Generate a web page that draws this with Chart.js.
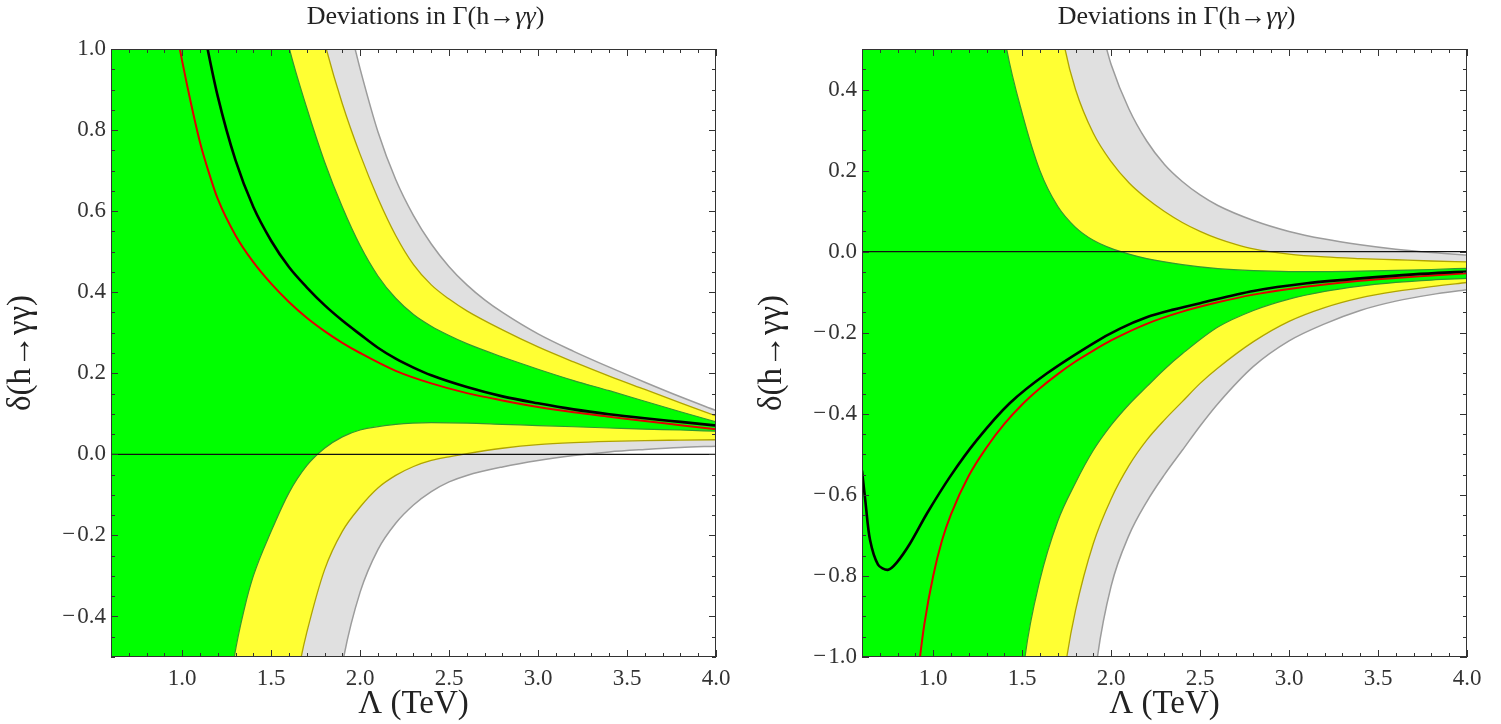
<!DOCTYPE html>
<html>
<head>
<meta charset="utf-8">
<title>Deviations in Γ(h→γγ)</title>
<script src="https://cdn.jsdelivr.net/npm/chart.js@4.4.0/dist/chart.umd.min.js"></script>
<style>
  html, body { margin: 0; padding: 0; background: #fff; }
  #wrap { position: relative; width: 1501px; height: 724px; }
  canvas { position: absolute; top: 0; }
  #left { left: 0; }
  #right { left: 751px; }
</style>
</head>
<body>
<div id="wrap">
  <canvas id="left" width="750" height="724"></canvas>
  <canvas id="right" width="750" height="724"></canvas>
</div>
<script>
// tick labels
const xTicks = [1.0, 1.5, 2.0, 2.5, 3.0, 3.5, 4.0];
const leftYTicks = [-0.4, -0.2, 0.0, 0.2, 0.4, 0.6, 0.8, 1.0];
const rightYTicks = [-1.0, -0.8, -0.6, -0.4, -0.2, 0.0, 0.2, 0.4];

// horizontal reference line
const zeroX = [0.6, 4.0];
const zeroY = [0, 0];

// left panel: central curves
const lRedX = [0.95, 0.987, 1.0, 1.05, 1.1, 1.15, 1.2, 1.3, 1.4, 1.5, 1.6, 1.7, 1.8, 1.9, 2.0, 2.2, 2.4, 2.6, 2.8, 3.0, 3.2, 3.4, 3.6, 3.8, 4.0];
const lRedY = [1.09, 1.0, 0.97, 0.865, 0.77, 0.695, 0.63, 0.54, 0.474, 0.421, 0.376, 0.337, 0.304, 0.275, 0.25, 0.206, 0.175, 0.151, 0.133, 0.117, 0.104, 0.093, 0.082, 0.072, 0.062];
const lBlackX = [1.1, 1.143, 1.2, 1.3, 1.4, 1.5, 1.6, 1.7, 1.8, 1.9, 2.0, 2.1, 2.2, 2.3, 2.4, 2.6, 2.8, 3.0, 3.2, 3.4, 3.6, 3.8, 4.0];
const lBlackY = [1.1, 1.0, 0.883, 0.725, 0.61, 0.527, 0.462, 0.412, 0.368, 0.33, 0.296, 0.263, 0.236, 0.214, 0.195, 0.166, 0.143, 0.126, 0.111, 0.099, 0.089, 0.080, 0.071];

// left panel: band edges
const lGreenHiX = [0.6, 1.3, 1.4, 1.5, 1.603, 1.7, 1.8, 1.9, 2.0, 2.1, 2.2, 2.3, 2.4, 2.5, 2.6, 2.8, 3.0, 3.2, 3.4, 3.6, 3.8, 4.0];
const lGreenHiY = [8.0, 1.75, 1.45, 1.2, 1.0, 0.855, 0.722, 0.61, 0.515, 0.44, 0.385, 0.345, 0.316, 0.293, 0.273, 0.24, 0.21, 0.182, 0.157, 0.131, 0.105, 0.080];
const lGreenLoX = [0.6, 1.0, 1.2, 1.293, 1.35, 1.4, 1.5, 1.6, 1.7, 1.8, 1.9, 2.0, 2.2, 2.4, 2.6, 2.8, 3.0, 3.2, 3.4, 3.6, 3.8, 4.0];
const lGreenLoY = [-8.0, -2.4, -0.8, -0.5, -0.38, -0.30, -0.19, -0.095, -0.028, 0.015, 0.043, 0.06, 0.074, 0.078, 0.077, 0.074, 0.071, 0.068, 0.065, 0.062, 0.060, 0.057];
const lYellowHiX = [0.6, 1.6, 1.7, 1.81, 1.9, 2.0, 2.1, 2.2, 2.3, 2.4, 2.5, 2.6, 2.8, 3.0, 3.2, 3.4, 3.6, 3.8, 4.0];
const lYellowHiY = [10.0, 1.43, 1.2, 1.0, 0.865, 0.74, 0.632, 0.54, 0.468, 0.418, 0.383, 0.354, 0.307, 0.265, 0.228, 0.193, 0.16, 0.127, 0.095];
const lYellowLoX = [0.6, 1.2, 1.55, 1.669, 1.7, 1.8, 1.9, 2.0, 2.1, 2.2, 2.3, 2.4, 2.5, 2.6, 2.8, 3.0, 3.2, 3.4, 3.6, 3.8, 4.0];
const lYellowLoY = [-10.0, -3.0, -0.8, -0.5, -0.44, -0.285, -0.19, -0.13, -0.083, -0.052, -0.030, -0.015, -0.006, 0.002, 0.015, 0.024, 0.029, 0.032, 0.034, 0.035, 0.036];
const lGrayHiX = [0.6, 1.8, 1.9, 1.972, 2.0, 2.1, 2.2, 2.3, 2.4, 2.5, 2.6, 2.7, 2.8, 3.0, 3.2, 3.4, 3.6, 3.8, 4.0];
const lGrayHiY = [12.0, 1.36, 1.13, 1.0, 0.951, 0.796, 0.678, 0.589, 0.519, 0.463, 0.418, 0.381, 0.350, 0.297, 0.254, 0.215, 0.178, 0.142, 0.108];
const lGrayLoX = [0.6, 1.5, 1.8, 1.908, 2.0, 2.1, 2.2, 2.3, 2.4, 2.5, 2.6, 2.8, 3.0, 3.2, 3.4, 3.6, 3.8, 4.0];
const lGrayLoY = [-12.0, -3.0, -0.8, -0.5, -0.34, -0.235, -0.17, -0.125, -0.092, -0.068, -0.052, -0.031, -0.015, -0.003, 0.006, 0.012, 0.017, 0.020];

// right panel: central curves
const rRedX = [0.85, 0.926, 0.95, 1.0, 1.05, 1.1, 1.2, 1.3, 1.4, 1.5, 1.6, 1.7, 1.8, 1.9, 2.0, 2.2, 2.4, 2.6, 2.8, 3.0, 3.2, 3.4, 3.6, 3.8, 4.0];
const rRedY = [-1.3, -1.0, -0.92, -0.80, -0.712, -0.648, -0.553, -0.483, -0.425, -0.377, -0.337, -0.302, -0.271, -0.244, -0.219, -0.178, -0.148, -0.125, -0.106, -0.092, -0.081, -0.072, -0.065, -0.059, -0.053];
const rBlackX = [0.6, 0.62, 0.645, 0.69, 0.745, 0.795, 0.87, 0.965, 1.095, 1.245, 1.43, 1.64, 1.9, 2.05, 2.2, 2.35, 2.5, 2.8, 3.1, 3.4, 3.7, 4.0];
const rBlackY = [-0.54, -0.62, -0.711, -0.772, -0.785, -0.767, -0.72, -0.646, -0.555, -0.465, -0.374, -0.30, -0.226, -0.19, -0.162, -0.143, -0.127, -0.097, -0.078, -0.066, -0.056, -0.049];

// right panel: band edges
const rGreenHiX = [0.6, 1.2, 1.3, 1.413, 1.5, 1.6, 1.7, 1.8, 1.9, 2.0, 2.1, 2.2, 2.4, 2.6, 2.8, 3.0, 3.2, 3.4, 3.6, 3.8, 4.0];
const rGreenHiY = [8.0, 1.2, 0.82, 0.5, 0.342, 0.2, 0.112, 0.060, 0.028, 0.008, -0.006, -0.017, -0.032, -0.042, -0.047, -0.049, -0.049, -0.048, -0.046, -0.044, -0.041];
const rGreenLoX = [0.6, 1.4, 1.516, 1.6, 1.7, 1.8, 1.9, 2.0, 2.1, 2.2, 2.3, 2.4, 2.6, 2.8, 3.0, 3.2, 3.4, 3.6, 3.8, 4.0];
const rGreenLoY = [-10.0, -1.5, -1.0, -0.81, -0.665, -0.57, -0.49, -0.428, -0.377, -0.333, -0.29, -0.252, -0.186, -0.145, -0.117, -0.098, -0.085, -0.076, -0.070, -0.066];
const rYellowHiX = [0.6, 1.5, 1.6, 1.741, 1.8, 1.9, 2.0, 2.1, 2.2, 2.3, 2.4, 2.5, 2.6, 2.7, 2.8, 3.0, 3.2, 3.4, 3.6, 3.8, 4.0];
const rYellowHiY = [10.0, 1.25, 0.88, 0.5, 0.4, 0.292, 0.222, 0.170, 0.131, 0.099, 0.072, 0.05, 0.032, 0.018, 0.007, -0.006, -0.013, -0.017, -0.020, -0.023, -0.025];
const rYellowLoX = [0.6, 1.6, 1.751, 1.8, 1.9, 2.0, 2.1, 2.2, 2.3, 2.4, 2.5, 2.6, 2.8, 3.0, 3.2, 3.4, 3.6, 3.8, 4.0];
const rYellowLoY = [-12.0, -1.5, -1.0, -0.885, -0.72, -0.61, -0.528, -0.465, -0.415, -0.37, -0.325, -0.287, -0.222, -0.172, -0.138, -0.114, -0.098, -0.086, -0.076];
const rGrayHiX = [0.6, 1.7, 1.85, 1.975, 2.0, 2.1, 2.2, 2.3, 2.4, 2.5, 2.6, 2.8, 3.0, 3.2, 3.4, 3.6, 3.8, 4.0];
const rGrayHiY = [12.0, 1.05, 0.71, 0.5, 0.462, 0.352, 0.273, 0.215, 0.173, 0.14, 0.114, 0.077, 0.050, 0.031, 0.017, 0.006, -0.002, -0.008];
const rGrayLoX = [0.6, 1.8, 1.923, 2.0, 2.1, 2.2, 2.3, 2.4, 2.5, 2.6, 2.8, 3.0, 3.2, 3.4, 3.6, 3.8, 4.0];
const rGrayLoY = [-14.0, -1.5, -1.0, -0.825, -0.70, -0.617, -0.55, -0.49, -0.43, -0.375, -0.283, -0.22, -0.178, -0.145, -0.122, -0.106, -0.094];

const SERIF = '"Liberation Serif", "Times New Roman", serif';
const INK = '#333';

const pts = (xs, ys) => xs.map((x, i) => ({ x, y: ys[i] }));
// minus sign set a hair apart from the digits
const fmt = v => (v < 0 ? '\u2212\u200a' : '') + Math.abs(v).toFixed(1);

// box round the plot with inward ticks on all four sides
const frameTicks = {
  id: 'frameTicks',
  afterDatasetsDraw(chart, args, opts) {
    const { ctx, chartArea: a, scales: { x, y } } = chart;
    ctx.save();
    ctx.strokeStyle = INK;
    ctx.lineWidth = 1;
    ctx.strokeRect(a.left + 0.5, a.top + 0.5, a.right - a.left - 1, a.bottom - a.top - 1);
    ctx.beginPath();
    const xMajor = new Set(opts.xMajor.map(v => Math.round(v * 100)));
    for (let k = Math.round(x.min * 10); k <= Math.round(x.max * 10); k++) {
      const len = xMajor.has(k * 10) ? 7 : 4;
      const px = Math.round(x.getPixelForValue(k / 10)) + 0.5;
      ctx.moveTo(px, a.bottom); ctx.lineTo(px, a.bottom - len);
      ctx.moveTo(px, a.top); ctx.lineTo(px, a.top + len);
    }
    const yMajor = new Set(opts.yMajor.map(v => Math.round(v * 100)));
    for (let k = Math.round(y.min * 20); k <= Math.round(y.max * 20); k++) {
      const len = yMajor.has(k * 5) ? 7 : 4;
      const py = Math.round(y.getPixelForValue(k / 20)) + 0.5;
      ctx.moveTo(a.left, py); ctx.lineTo(a.left + len, py);
      ctx.moveTo(a.right, py); ctx.lineTo(a.right - len, py);
    }
    ctx.stroke();
    ctx.restore();
  }
};

// panel heading with italic photons
const panelTitle = {
  id: 'panelTitle',
  afterDraw(chart, args, opts) {
    const { ctx, chartArea: a } = chart;
    ctx.save();
    ctx.fillStyle = '#222';
    ctx.textBaseline = 'middle';
    const fonts = opts.parts.map(p => (p.italic ? 'italic ' : '') + opts.size + 'px ' + SERIF);
    const widths = opts.parts.map((p, i) => { ctx.font = fonts[i]; return ctx.measureText(p.text).width; });
    let px = (a.left + a.right) / 2 + opts.shift - widths.reduce((s, w) => s + w, 0) / 2;
    opts.parts.forEach((p, i) => {
      ctx.font = fonts[i];
      ctx.fillText(p.text, px, opts.y);
      px += widths[i];
    });
    ctx.restore();
  }
};

const GREEN = '#00ff00', GREEN_EDGE = '#2f9a2f';
const YELLOW = '#ffff33', YELLOW_EDGE = '#b0a400';
const GRAY = '#e0e0e0', GRAY_EDGE = '#9c9c9c';

function drawPanel(id, p) {
  const datasets = [
    { data: pts(zeroX, zeroY), borderColor: '#111', borderWidth: 1.2, cubicInterpolationMode: 'default' },
    { data: pts(p.blackX, p.blackY), borderColor: '#000', borderWidth: 2.6,
      cubicInterpolationMode: p.blackMode, tension: p.blackTension },
    { data: pts(p.redX, p.redY), borderColor: '#e10000', borderWidth: 2 },
    { data: pts(p.greenHiX, p.greenHiY), borderColor: GREEN_EDGE, borderWidth: 1.2, backgroundColor: GREEN, fill: '+1' },
    { data: pts(p.greenLoX, p.greenLoY), borderColor: GREEN_EDGE, borderWidth: 1.2 },
    { data: pts(p.yellowHiX, p.yellowHiY), borderColor: YELLOW_EDGE, borderWidth: 1.3, backgroundColor: YELLOW, fill: '+1' },
    { data: pts(p.yellowLoX, p.yellowLoY), borderColor: YELLOW_EDGE, borderWidth: 1.3 },
    { data: pts(p.grayHiX, p.grayHiY), borderColor: GRAY_EDGE, borderWidth: 1.5, backgroundColor: GRAY, fill: '+1' },
    { data: pts(p.grayLoX, p.grayLoY), borderColor: GRAY_EDGE, borderWidth: 1.5 }
  ];

  return new Chart(document.getElementById(id), {
    type: 'line',
    data: { datasets },
    plugins: [frameTicks, panelTitle],
    options: {
      responsive: false,
      animation: false,
      events: [],
      layout: { padding: { top: 49, right: 34, bottom: 0, left: 0 } },
      elements: {
        point: { radius: 0 },
        line: { cubicInterpolationMode: 'monotone', capBezierPoints: false, fill: false }
      },
      plugins: {
        legend: { display: false },
        tooltip: { enabled: false },
        filler: { drawTime: 'beforeDatasetsDraw' },
        frameTicks: { xMajor: xTicks, yMajor: p.yTicks },
        panelTitle: {
          y: 17, size: 26, shift: 12,
          parts: [{ text: 'Deviations in \u0393(h\u2192' }, { text: '\u03b3\u03b3', italic: true }, { text: ')' }]
        }
      },
      scales: {
        x: {
          type: 'linear', min: 0.6, max: 4.0,
          afterBuildTicks: s => { s.ticks = xTicks.map(value => ({ value })); },
          afterFit: s => { s.height = 67; },
          grid: { display: false, drawTicks: false },
          border: { display: false },
          ticks: { callback: fmt, font: { family: SERIF, size: 23 }, color: INK, padding: 8, maxRotation: 0, autoSkip: false },
          title: { display: true, text: '\u039b (TeV)', font: { family: SERIF, size: 33 }, color: '#222', padding: { top: 0, bottom: 0 } }
        },
        y: {
          type: 'linear', min: p.yMin, max: p.yMax,
          afterBuildTicks: s => { s.ticks = p.yTicks.map(value => ({ value })); },
          afterFit: s => { s.width = 111; },
          grid: { display: false, drawTicks: false },
          border: { display: false },
          ticks: { callback: fmt, font: { family: SERIF, size: 23 }, color: INK, padding: 5, autoSkip: false },
          title: { display: true, text: '\u03b4(h\u2192\u03b3\u03b3)', font: { family: SERIF, size: 33 }, color: '#222', padding: { top: 2, bottom: 0 } }
        }
      }
    }
  });
}

drawPanel('left', {
  yMin: -0.5, yMax: 1.0, yTicks: leftYTicks, blackMode: 'monotone', blackTension: 0,
  redX: lRedX, redY: lRedY, blackX: lBlackX, blackY: lBlackY,
  greenHiX: lGreenHiX, greenHiY: lGreenHiY, greenLoX: lGreenLoX, greenLoY: lGreenLoY,
  yellowHiX: lYellowHiX, yellowHiY: lYellowHiY, yellowLoX: lYellowLoX, yellowLoY: lYellowLoY,
  grayHiX: lGrayHiX, grayHiY: lGrayHiY, grayLoX: lGrayLoX, grayLoY: lGrayLoY
});

drawPanel('right', {
  yMin: -1.0, yMax: 0.5, yTicks: rightYTicks, blackMode: 'default', blackTension: 0.3,
  redX: rRedX, redY: rRedY, blackX: rBlackX, blackY: rBlackY,
  greenHiX: rGreenHiX, greenHiY: rGreenHiY, greenLoX: rGreenLoX, greenLoY: rGreenLoY,
  yellowHiX: rYellowHiX, yellowHiY: rYellowHiY, yellowLoX: rYellowLoX, yellowLoY: rYellowLoY,
  grayHiX: rGrayHiX, grayHiY: rGrayHiY, grayLoX: rGrayLoX, grayLoY: rGrayLoY
});
</script>
</body>
</html>
